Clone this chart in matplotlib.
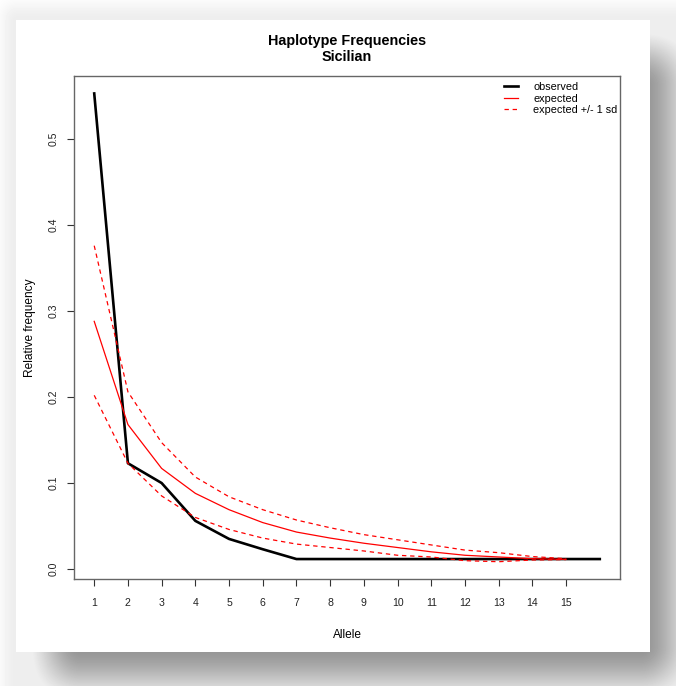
import numpy as np
from matplotlib import pyplot as plt

# haplotype frequencies, Sicilian
alleles_obs = list(range(1, 17))
observed = [0.553, 0.123, 0.100, 0.056, 0.035, 0.023, 0.0116, 0.0116,
            0.0116, 0.0116, 0.0116, 0.0116, 0.0116, 0.0116, 0.0116, 0.0116]

alleles_exp = list(range(1, 16))
expected = [0.288, 0.168, 0.117, 0.088, 0.069, 0.054, 0.043, 0.036,
            0.030, 0.025, 0.020, 0.016, 0.014, 0.012, 0.0113]
exp_upper = [0.376, 0.206, 0.147, 0.107, 0.084, 0.069, 0.057, 0.048,
             0.040, 0.034, 0.028, 0.022, 0.019, 0.0145, 0.012]
exp_lower = [0.202, 0.123, 0.085, 0.060, 0.046, 0.036, 0.029, 0.025,
             0.021, 0.016, 0.014, 0.0097, 0.0085, 0.0105, 0.011]

x_ticks = list(range(1, 16))
y_ticks = [0.0, 0.1, 0.2, 0.3, 0.4, 0.5]

plt.rcParams['font.family'] = ['Liberation Sans', 'DejaVu Sans']

W, H = 676, 686
fig = plt.figure(figsize=(W / 100, H / 100), dpi=100)

# drop shadow behind the white card
def ramp(v, a, b):
    t = np.clip((v - a) / (b - a), 0, 1)
    return t * t * (3 - 2 * t)

yy, xx = np.mgrid[0:H, 0:W]
fx = ramp(xx, 15, 80) * (1 - ramp(xx, 640, 710))
fy = ramp(yy, 15, 85) * (1 - ramp(yy, 645, 715))
glow = 0.07 * ramp(xx, -10, 16) * ramp(yy, -10, 20)
bg = 1 - np.maximum(0.42 * fx * fy, glow)
bg[20:652, 16:650] = 1.0
fig.figimage(bg, xo=0, yo=0, origin='upper', cmap='gray', vmin=0, vmax=1, zorder=-10)

ax = fig.add_axes([74 / W, 1 - 579 / H, 546 / W, 503 / H])
ax.set_facecolor('white')

ax.plot(alleles_obs, observed, c='black', lw=1.9, label='observed')
ax.plot(alleles_exp, expected, c='red', lw=0.9, label='expected')
ax.plot(alleles_exp, exp_upper, c='red', lw=0.9, ls=(0, (3.5, 3)),
        label='expected +/- 1 sd')
ax.plot(alleles_exp, exp_lower, c='red', lw=0.9, ls=(0, (3.5, 3)))

ax.set_xlim(0.4, 16.6)
ax.set_ylim(-0.0116, 0.5733)
ax.set_xticks(x_ticks)
ax.set_yticks(y_ticks)
ax.set_yticklabels([f'{v:.1f}' for v in y_ticks], rotation=90, va='center')
ax.tick_params(length=5, width=0.8, color='#333333', labelsize=7.6,
               labelcolor='#222222')
ax.tick_params(axis='x', pad=9)
ax.tick_params(axis='y', pad=6)
for s in ax.spines.values():
    s.set_color('#666666')
    s.set_linewidth(1.0)

ax.set_xlabel('Allele', fontsize=8.6, labelpad=15)
ax.set_ylabel('Relative frequency', fontsize=8.6, labelpad=9)

fig.text(347 / W, 1 - 49 / H, 'Haplotype Frequencies\nSicilian',
         ha='center', va='center', fontsize=10.4, fontweight='bold')

ax.legend(loc='upper left', bbox_to_anchor=((504 - 74) / 546, 1 - 6 / 503),
          frameon=False, fontsize=7.8, handlelength=1.3, handletextpad=1.4,
          labelspacing=0.15, borderpad=0, borderaxespad=0)

plt.savefig('out.png', dpi=100)
